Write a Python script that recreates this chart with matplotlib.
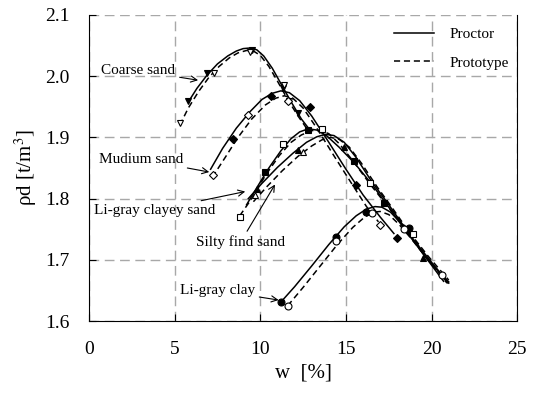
import numpy as np
import matplotlib
matplotlib.use('Agg')
import matplotlib.pyplot as plt

plt.rcParams['font.family'] = ['Liberation Serif', 'DejaVu Serif']
plt.rcParams['mathtext.fontset'] = 'stix'

# ---- smooth curves ----
coarse_w_p = [5.8, 6.3, 6.9, 7.5, 8.1, 8.6, 9.0, 9.4, 9.8, 10.2, 10.7, 11.2, 11.8, 12.4, 12.9]
coarse_r_p = [1.958, 1.98, 2.002, 2.02, 2.033, 2.041, 2.045, 2.046, 2.043, 2.033, 2.013, 1.988, 1.958, 1.93, 1.912]
coarse_w_t = [5.3, 5.8, 6.4, 7.0, 7.6, 8.2, 8.7, 9.2, 9.6, 10.0, 10.5, 11.0, 11.6, 12.2, 12.7]
coarse_r_t = [1.92, 1.948, 1.975, 1.998, 2.016, 2.03, 2.038, 2.042, 2.041, 2.034, 2.016, 1.992, 1.962, 1.935, 1.915]

medium_w_p = [7.1, 7.8, 8.6, 9.4, 10.1, 10.7, 11.2, 11.7, 12.3, 13.0, 14.0, 15.0, 16.0, 17.0, 17.8]
medium_r_p = [1.848, 1.882, 1.915, 1.942, 1.962, 1.972, 1.976, 1.973, 1.96, 1.935, 1.892, 1.848, 1.806, 1.77, 1.743]
medium_w_t = [7.2, 7.9, 8.7, 9.5, 10.3, 10.9, 11.4, 11.9, 12.5, 13.3, 14.3, 15.3, 16.2, 16.9]
medium_r_t = [1.835, 1.865, 1.9, 1.93, 1.953, 1.964, 1.968, 1.964, 1.948, 1.915, 1.87, 1.826, 1.787, 1.762]

clayey_w_p = [9.2, 9.8, 10.5, 11.2, 11.8, 12.3, 12.8, 13.3, 13.9, 14.6, 15.5, 16.5, 17.5, 18.5, 19.5, 20.5, 21.0]
clayey_r_p = [1.79, 1.818, 1.85, 1.878, 1.898, 1.909, 1.914, 1.912, 1.902, 1.884, 1.858, 1.824, 1.786, 1.747, 1.71, 1.678, 1.664]
clayey_w_t = [8.8, 9.5, 10.3, 11.1, 11.8, 12.4, 13.0, 13.5, 14.0, 14.6, 15.4, 16.4, 17.5, 18.7, 19.8, 21.0]
clayey_r_t = [1.772, 1.8, 1.838, 1.87, 1.892, 1.904, 1.911, 1.912, 1.906, 1.89, 1.862, 1.824, 1.785, 1.745, 1.706, 1.667]

silty_w_p = [9.3, 10.1, 11.0, 11.9, 12.7, 13.3, 13.8, 14.3, 14.9, 15.6, 16.5, 17.5, 18.5, 19.5, 20.7]
silty_r_p = [1.80, 1.825, 1.851, 1.874, 1.892, 1.901, 1.905, 1.903, 1.892, 1.867, 1.828, 1.79, 1.75, 1.71, 1.665]
silty_w_t = [9.6, 10.4, 11.3, 12.2, 13.0, 13.6, 14.1, 14.6, 15.2, 15.9, 16.8, 17.7, 18.7, 19.8, 20.9]
silty_r_t = [1.795, 1.82, 1.846, 1.869, 1.886, 1.896, 1.9, 1.897, 1.884, 1.858, 1.82, 1.785, 1.745, 1.70, 1.662]

clay_w_p = [11.2, 12.0, 13.0, 14.0, 14.9, 15.6, 16.2, 16.7, 17.1, 17.6, 18.2, 19.0, 20.0, 21.0]
clay_r_p = [1.631, 1.656, 1.69, 1.725, 1.754, 1.772, 1.783, 1.787, 1.786, 1.778, 1.76, 1.731, 1.696, 1.662]
clay_w_t = [11.6, 12.5, 13.5, 14.5, 15.4, 16.1, 16.6, 17.0, 17.5, 18.1, 18.8, 19.8, 21.0]
clay_r_t = [1.625, 1.655, 1.69, 1.725, 1.753, 1.77, 1.778, 1.779, 1.774, 1.758, 1.735, 1.70, 1.66]

# ---- measured points ----
coarse_pw = [5.8, 6.9, 9.5, 11.3, 12.2]
coarse_pr = [1.96, 2.005, 2.042, 1.98, 1.94]
coarse_tw = [5.3, 7.3, 9.4, 11.4, 11.7]
coarse_tr = [1.923, 2.005, 2.04, 1.985, 1.96]

medium_pw = [8.4, 10.6, 12.9, 15.6, 18.0]
medium_pr = [1.898, 1.968, 1.95, 1.823, 1.735]
medium_tw = [7.25, 9.3, 11.6, 17.0]
medium_tr = [1.838, 1.936, 1.96, 1.757]

clayey_pw = [10.3, 12.8, 15.5, 17.2]
clayey_pr = [1.843, 1.912, 1.861, 1.793]
clayey_tw = [8.8, 11.3, 13.6, 16.4, 18.9]
clayey_tr = [1.77, 1.89, 1.913, 1.825, 1.742]

silty_pw = [9.8, 12.2, 14.9, 19.5]
silty_pr = [1.815, 1.88, 1.885, 1.703]
silty_tw = [9.7, 12.5]
silty_tr = [1.806, 1.876]

clay_pw = [11.2, 14.4, 16.2, 18.7]
clay_pr = [1.631, 1.737, 1.778, 1.752]
clay_tw = [11.6, 14.4, 16.5, 18.4, 20.6]
clay_tr = [1.625, 1.73, 1.776, 1.75, 1.675]

fig = plt.figure(figsize=(5.36, 3.93), dpi=100)
ax = fig.add_axes([0.166, 0.183, 0.799, 0.779])

curves = [(coarse_w_p, coarse_r_p, coarse_w_t, coarse_r_t),
          (medium_w_p, medium_r_p, medium_w_t, medium_r_t),
          (clayey_w_p, clayey_r_p, clayey_w_t, clayey_r_t),
          (silty_w_p, silty_r_p, silty_w_t, silty_r_t),
          (clay_w_p, clay_r_p, clay_w_t, clay_r_t)]
for i, (wp, rp, wt, rt) in enumerate(curves):
    ax.plot(wp, rp, color='k', lw=1.1, ls='-', label='Proctor' if i == 0 else None)
    ax.plot(wt, rt, color='k', lw=1.1, ls=(0, (4, 2.5)), label='Prototype' if i == 0 else None)

points = [(coarse_pw, coarse_pr, coarse_tw, coarse_tr, 'v'),
          (medium_pw, medium_pr, medium_tw, medium_tr, 'D'),
          (clayey_pw, clayey_pr, clayey_tw, clayey_tr, 's'),
          (silty_pw, silty_pr, silty_tw, silty_tr, '^'),
          (clay_pw, clay_pr, clay_tw, clay_tr, 'o')]
for pw, pr, tw, tr, m in points:
    ms = 4 if m == 'D' else 5
    ax.plot(pw, pr, ls='none', marker=m, ms=ms, mfc='k', mec='k', mew=0.8)
    ax.plot(tw, tr, ls='none', marker=m, ms=ms, mfc='white', mec='k', mew=0.8)

arrow = dict(arrowstyle='->', color='k', lw=0.8, shrinkA=1, shrinkB=1)
ax.annotate('Coarse sand', xy=(6.45, 1.993), xytext=(5.05, 2.009),
            ha='right', va='center', fontsize=11, arrowprops=arrow)
ax.annotate('Mudium sand', xy=(7.1, 1.843), xytext=(5.5, 1.864),
            ha='right', va='center', fontsize=11, arrowprops=arrow)
ax.annotate('Li-gray clayey sand', xy=(9.2, 1.812), xytext=(7.4, 1.781),
            ha='right', va='center', fontsize=11, arrowprops=arrow)
ax.annotate('Silty find sand', xy=(10.9, 1.825), xytext=(8.85, 1.729),
            ha='center', va='center', fontsize=11, arrowprops=arrow)
ax.annotate('Li-gray clay', xy=(11.15, 1.634), xytext=(9.7, 1.65),
            ha='right', va='center', fontsize=11, arrowprops=arrow)

ax.set_xlim(0, 25)
ax.set_ylim(1.6, 2.1)
ax.set_xticks([0, 5, 10, 15, 20, 25])
ax.set_yticks([1.6, 1.7, 1.8, 1.9, 2.0, 2.1])
ax.set_yticklabels(['1.6', '1.7', '1.8', '1.9', '2.0', '2.1'])
ax.grid(True, color='#a8a8a8', ls=(0, (7, 4)), lw=1.0)
ax.spines['top'].set_visible(False)
ax.tick_params(direction='in', length=5, labelsize=14)
ax.tick_params(axis='x', pad=14)
ax.tick_params(axis='y', pad=14)
ax.set_xlabel('w  [%]', fontsize=15, labelpad=4)
ax.set_ylabel(r'ρd [t/m$^3$]', fontsize=15, labelpad=4)
ax.legend(loc='upper right', frameon=False, fontsize=11, handlelength=2.6,
          handletextpad=1.0, labelspacing=1.0, bbox_to_anchor=(1.012, 1.005))

plt.savefig('out.png', dpi=100)
